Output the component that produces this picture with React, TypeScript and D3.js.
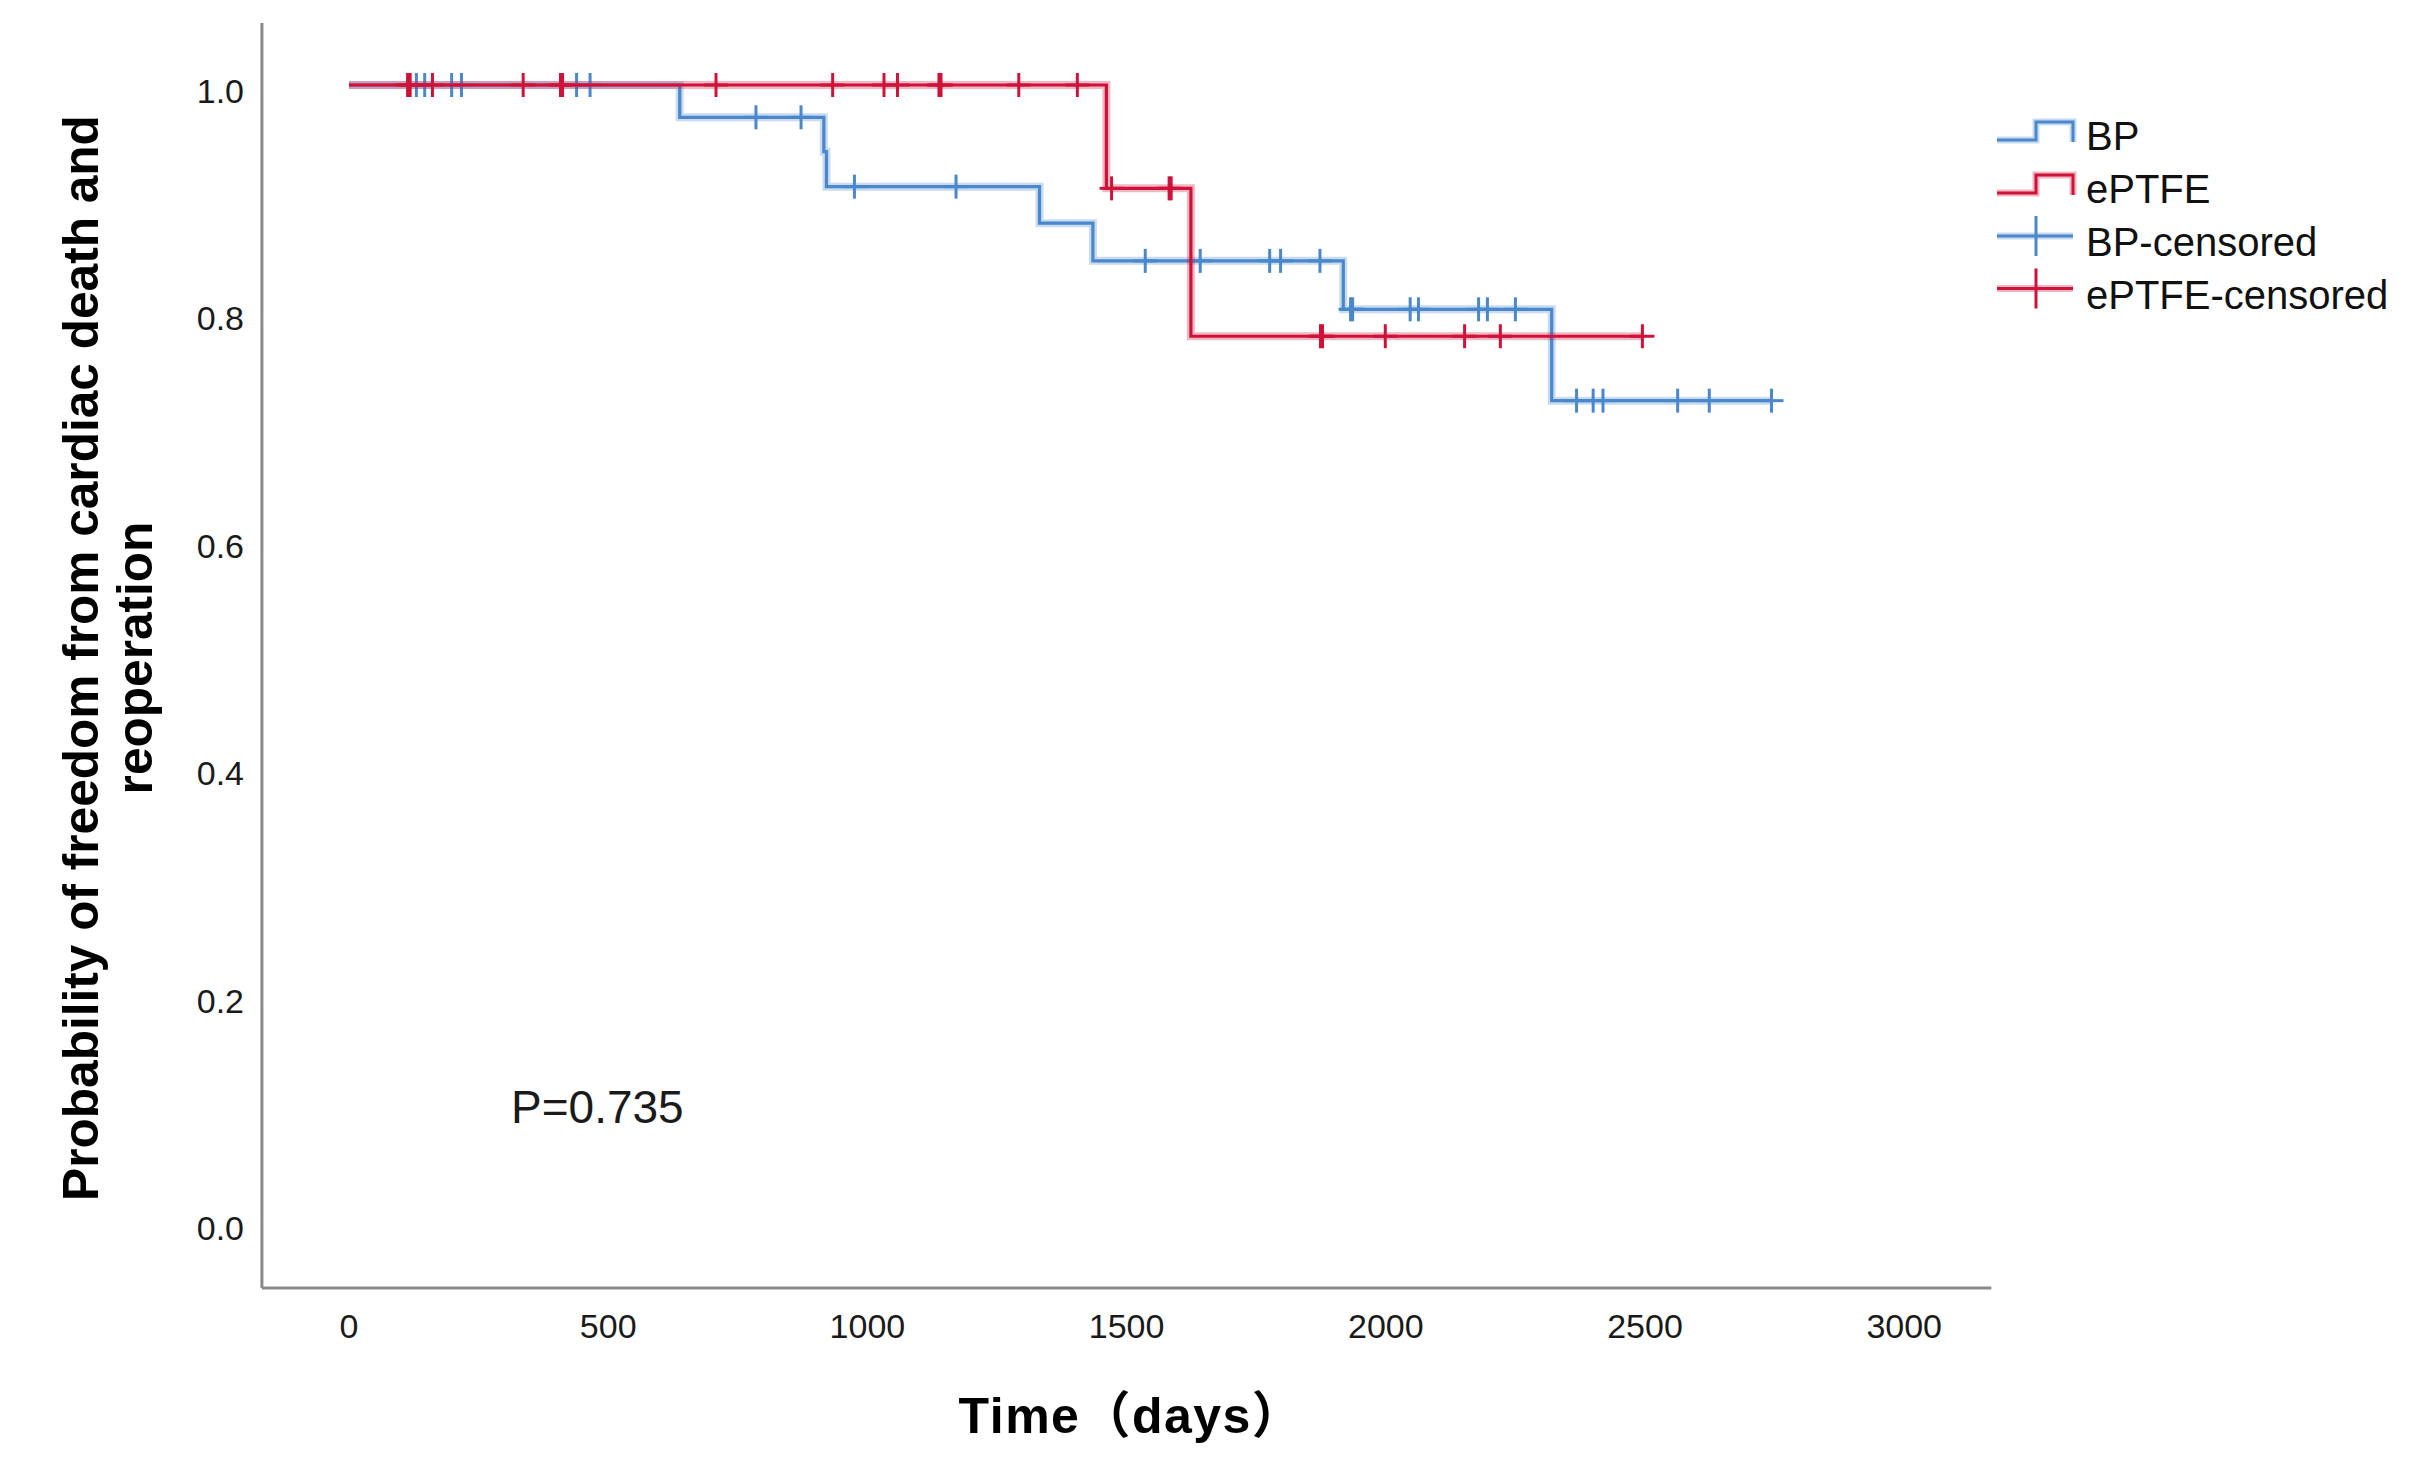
import React from "react";
import * as d3 from "d3";

// ---- data ----
const xTicks = [0, 500, 1000, 1500, 2000, 2500, 3000];
const yTicks = [0.0, 0.2, 0.4, 0.6, 0.8, 1.0];

const bpEventTimes = [638, 916, 921, 1332, 1435, 1918, 2320];
const bpSurvival = [0.9717, 0.9416, 0.911, 0.879, 0.846, 0.8036, 0.7236];
const bpCensorTimes = [
  130, 146, 198, 217, 439, 465, 785, 872, 975, 1171, 1536, 1642, 1776, 1797,
  1873, 1932, 1936, 2047, 2063, 2179, 2196, 2250, 2368, 2400, 2419, 2563, 2624, 2744,
];

const eptfeEventTimes = [1461, 1624];
const eptfeSurvival = [0.9095, 0.78];
const eptfeCensorTimes = [
  113, 118, 161, 336, 408, 412, 708, 933, 1032, 1058, 1138, 1142, 1292, 1405,
  1471, 1582, 1586, 1874, 1878, 1999, 2152, 2221, 2495,
];

const legendLabels = ["BP", "ePTFE", "BP-censored", "ePTFE-censored"];
const pValueText = "P=0.735";
const xTitle = "Time（days）";
const yTitleLines = ["Probability of freedom from cardiac death and", "reoperation"];

const BLUE = "#4a87cb";
const RED = "#cf1239";
const AXIS = "#8a8a8a";
const FONT = "'Liberation Sans', Arial, 'Noto Sans CJK SC', sans-serif";

const W = 2429;
const H = 1476;

const x = d3.scaleLinear().domain([0, 3000]).range([349, 1904.2]);
const y = d3.scaleLinear().domain([0, 1]).range([1227, 85]);
// tick labels sit slightly below their values and are a touch tighter than the plot scale
const yLabel = d3.scaleLinear().domain([0, 1]).range([1228, 91]);

const xAxisMin = -168;
const xAxisMax = 3168;
const yAxisMin = -0.0534;
const yAxisMax = 1.0543;

type Pt = [number, number];

function buildCurve(events: number[], surv: number[], censors: number[]): Pt[] {
  const pts: Pt[] = [[0, 1]];
  events.forEach((t, i) => pts.push([t, surv[i]]));
  const lastT = Math.max(events[events.length - 1], censors[censors.length - 1]);
  pts.push([lastT, surv[surv.length - 1]]);
  return pts;
}

function levelAt(t: number, events: number[], surv: number[]): number {
  let s = 1;
  events.forEach((e, i) => {
    if (e <= t) s = surv[i];
  });
  return s;
}

const line = d3
  .line<Pt>()
  .x((d) => x(d[0]))
  .y((d) => y(d[1]))
  .curve(d3.curveStepAfter);

function Curve({
  events,
  surv,
  censors,
  color,
}: {
  events: number[];
  surv: number[];
  censors: number[];
  color: string;
}) {
  const pts = buildCurve(events, surv, censors);
  const d = line(pts) || "";
  return (
    <g>
      <path d={d} fill="none" stroke={color} strokeOpacity={0.3} strokeWidth={8} />
      <path d={d} fill="none" stroke={color} strokeWidth={3.2} />
      {censors.map((t, i) => {
        const cx = x(t);
        const cy = y(levelAt(t, events, surv));
        return (
          <g key={i}>
            <line x1={cx} x2={cx} y1={cy - 12} y2={cy + 12} stroke={color} strokeWidth={3} />
            <line x1={cx - 12} x2={cx + 12} y1={cy} y2={cy} stroke={color} strokeWidth={3} />
          </g>
        );
      })}
    </g>
  );
}

export default function App() {
  const legendX0 = 1997;
  const legendX1 = 2036;
  const legendX2 = 2073;
  const rowY = [134, 187, 236, 288.5];
  const legendColors = [BLUE, RED, BLUE, RED];

  return (
    <svg
      width={W}
      height={H}
      viewBox={`0 0 ${W} ${H}`}
      style={{ position: "absolute", left: 0, top: 0, background: "#fff" }}
    >
      <rect x={0} y={0} width={W} height={H} fill="#fff" />

      {/* axes */}
      <line
        x1={x(xAxisMin)}
        x2={x(xAxisMin)}
        y1={y(yAxisMax)}
        y2={y(yAxisMin)}
        stroke={AXIS}
        strokeWidth={3}
      />
      <line
        x1={x(xAxisMin)}
        x2={x(xAxisMax)}
        y1={y(yAxisMin)}
        y2={y(yAxisMin)}
        stroke={AXIS}
        strokeWidth={3}
      />

      {/* y tick labels */}
      {yTicks.map((v) => (
        <text
          key={v}
          x={244}
          y={yLabel(v)}
          textAnchor="end"
          dominantBaseline="central"
          fontFamily={FONT}
          fontSize={34}
          fill="#1a1a1a"
        >
          {v.toFixed(1)}
        </text>
      ))}

      {/* x tick labels */}
      {xTicks.map((v) => (
        <text
          key={v}
          x={x(v)}
          y={1338}
          textAnchor="middle"
          fontFamily={FONT}
          fontSize={34}
          fill="#1a1a1a"
        >
          {v}
        </text>
      ))}

      {/* curves */}
      <Curve events={bpEventTimes} surv={bpSurvival} censors={bpCensorTimes} color={BLUE} />
      <Curve events={eptfeEventTimes} surv={eptfeSurvival} censors={eptfeCensorTimes} color={RED} />

      {/* p value */}
      <text x={511} y={1123} fontFamily={FONT} fontSize={46} fill="#1a1a1a">
        {pValueText}
      </text>

      {/* axis titles */}
      <text
        x={1131}
        y={1433}
        textAnchor="middle"
        fontFamily={FONT}
        fontWeight="bold"
        fontSize={50}
        letterSpacing={1.5}
        fill="#000"
      >
        {xTitle}
      </text>
      {yTitleLines.map((t, i) => (
        <text
          key={i}
          transform={`translate(${98 + i * 54}, 658) rotate(-90)`}
          textAnchor="middle"
          fontFamily={FONT}
          fontWeight="bold"
          fontSize={49.6}
          fill="#000"
        >
          {t}
        </text>
      ))}

      {/* legend */}
      {legendLabels.map((lab, i) => {
        const cy = rowY[i];
        const c = legendColors[i];
        let sym;
        if (i < 2) {
          const lo = cy + 6;
          const hi = cy - 12;
          const dPath = `M${legendX0},${lo}H${legendX1}V${hi}H${legendX2}V${lo + 2}`;
          sym = (
            <g>
              <path d={dPath} fill="none" stroke={c} strokeOpacity={0.3} strokeWidth={7} />
              <path d={dPath} fill="none" stroke={c} strokeWidth={3} />
            </g>
          );
        } else {
          sym = (
            <g>
              <line x1={legendX0} x2={legendX2} y1={cy} y2={cy} stroke={c} strokeOpacity={0.3} strokeWidth={7} />
              <line x1={legendX0} x2={legendX2} y1={cy} y2={cy} stroke={c} strokeWidth={3} />
              <line x1={legendX1} x2={legendX1} y1={cy - 20} y2={cy + 20} stroke={c} strokeWidth={3} />
            </g>
          );
        }
        const textBase = i < 2 ? cy + 16 : cy + 20;
        return (
          <g key={lab}>
            {sym}
            <text x={2086} y={textBase} fontFamily={FONT} fontSize={40} fill="#111">
              {lab}
            </text>
          </g>
        );
      })}
    </svg>
  );
}
